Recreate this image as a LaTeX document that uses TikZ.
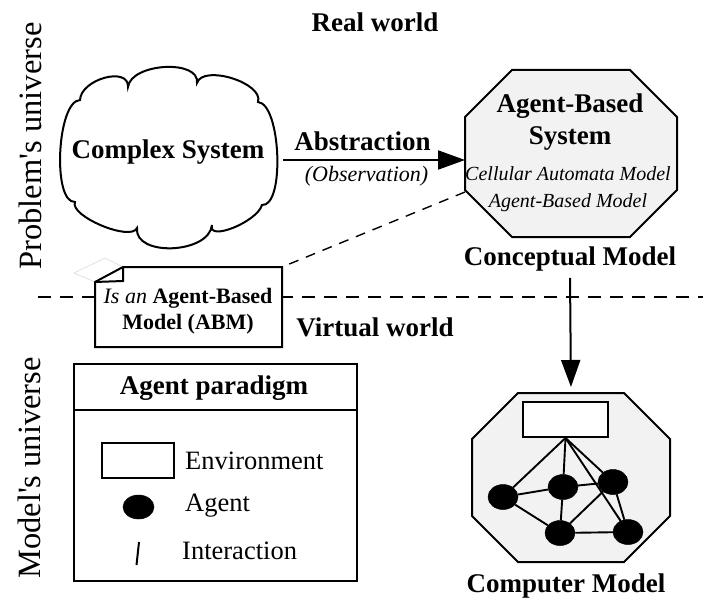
\documentclass[tikz,border=0pt]{standalone}
\usepackage{fontspec}
\setmainfont{Liberation Serif}
\newfontfamily\plainserif{Liberation Serif}
\usetikzlibrary{arrows.meta,calc,shapes.geometric}

% octagon drawn inside the box of a placeholder node: #1 style, #2 node name, #3 corner cut
\newcommand\drawoctagon[3]{%
  \draw[#1] ($(#2.north west)+(#3,0)$) -- ($(#2.north east)+(-#3,0)$)
    -- ($(#2.north east)+(0,#3)$) -- ($(#2.south east)+(0,-#3)$)
    -- ($(#2.south east)+(-#3,0)$) -- ($(#2.south west)+(#3,0)$)
    -- ($(#2.south west)+(0,-#3)$) -- ($(#2.north west)+(0,#3)$) -- cycle;}

\begin{document}
\begin{tikzpicture}[x=1pt, y=-1pt,
  outline/.style={line width=2pt, line join=miter},
  holder/.style={draw=none, inner sep=0pt, outer sep=0pt},
  octa/.style={outline, fill=black!5},
  flow/.style={line width=2pt, -{Triangle[length=27pt,width=19pt]}},
  divider/.style={line width=1.4pt, dash pattern=on 13pt off 9pt},
  head/.style={font=\fontsize{27}{32}\selectfont\bfseries, align=center},
  small/.style={font=\fontsize{22}{26}\selectfont, align=center},
  side/.style={font=\plainserif\fontsize{32.5}{36}\selectfont, rotate=90},
  legtext/.style={font=\fontsize{26.5}{30}\selectfont, anchor=west, inner sep=0pt},
  agent/.style={ellipse, fill=black, draw=black, line width=0.5pt,
                minimum width=30pt, minimum height=25pt, inner sep=0pt},
  link/.style={line width=1.9pt},
  envbox/.style={draw, line width=1.9pt, fill=white, inner sep=0pt}
]
\useasboundingbox (0,0) rectangle (703,599);

% region titles
\node[head] (real) at (375,22.5) {Real world};
\node[head] (virtual) at (375,327) {Virtual world};
\node[side] (prob) at (30,146) {Problem's universe};
\node[side] (modl) at (29,468) {Model's universe};

% border between the two worlds
\coordinate (divL) at (38,297);
\coordinate (divR) at (703,297);
\draw[divider] (divL) -- (divR);

% complex system cloud
\draw[outline, fill=white] (80,100)
  .. controls (81,79) and (129,66) .. (128,87)
  .. controls (131,63) and (200,59) .. (197,83)
  .. controls (203,64) and (264,83) .. (258,102)
  .. controls (281,104) and (285,207) .. (262,205)
  .. controls (257,222) and (207,242) .. (212,225)
  .. controls (209,254) and (134,257) .. (137,228)
  .. controls (131,242) and (69,216) .. (75,202)
  .. controls (52,203) and (57,101) .. (80,100) -- cycle;
\node[head] (cs) at (168,152) {Complex System};
\coordinate (cs-e) at (283,160);

% agent-based system (conceptual model)
\node[holder, minimum width=212pt, minimum height=167pt] (abs) at (571,153.5) {};
\drawoctagon{octa}{abs}{47}
\node[head] (abs-title) at (570,122) {Agent-Based\\System};
\node[align=center, font=\fontsize{20}{27}\selectfont\itshape] (abs-items) at (568,189)
  {Cellular Automata Model\\Agent-Based Model};
\node[head] (concept) at (570,259) {Conceptual Model};
\coordinate (abs-ll) at ($(abs.south west)+(0,-45)$);

% abstraction arrow
\draw[flow] (cs-e) -- (abs.west |- cs-e);
\node[head] (abstr) at (362.5,141) {Abstraction};
\node[small, font=\fontsize{22}{26}\selectfont\itshape] (obs) at (366.5,176) {(Observation)};

% note attached to the conceptual model
\node[holder, fill=white, minimum width=187pt, minimum height=80pt] (abm) at (188.5,307) {};
\draw[gray!30, line width=0.6pt] ($(abm.north west)+(0,15)$) -- (74,273) -- (105,258)
  -- ($(abm.north west)+(28,0)$);
\draw[outline, fill=white] ($(abm.north west)+(0,15)$) -- ($(abm.north west)+(28,0)$)
  -- (abm.north east) -- (abm.south east) -- (abm.south west) -- cycle;
\draw[outline] ($(abm.north west)+(0,15)$) -- ($(abm.north west)+(28,14)$)
  -- ($(abm.north west)+(28,0)$);
\node[small] (abm-text) at (188,311.5) {\textit{Is an} \textbf{Agent-Based}\\\textbf{Model (ABM)}};
\draw[divider, dash pattern=on 10pt off 8pt] (abs-ll) -- (abm.north east);

% computer model
\node[holder, minimum width=198pt, minimum height=169pt] (comp) at (571,477.5) {};
\drawoctagon{octa}{comp}{46}
\node[envbox, minimum width=85pt, minimum height=35pt] (cenv) at (565.5,419.5) {};
\node[agent] (a1) at (503,497) {};
\node[agent] (a2) at (563,487) {};
\node[agent] (a3) at (613,482) {};
\node[agent] (a4) at (560,533) {};
\node[agent] (a5) at (628,532) {};
\draw[link] (cenv.south) -- (a1);
\draw[link] (cenv.south) -- (a2);
\draw[link] (cenv.south) -- (a3);
\draw[link] (cenv.south) -- (a5);
\draw[link] (a1) -- (a2);
\draw[link] (a2) -- (a3);
\draw[link] (a1) -- (a4);
\draw[link] (a2) -- (a4);
\draw[link] (a4) -- (a3);
\draw[link] (a4) -- (a5);
\draw[link] (a3) -- (a5);
\node[head] (compl) at (566,585.5) {Computer Model};

% implementation arrow
\draw[flow, shorten <=3pt, shorten >=6pt] (concept.south) -- (comp.north);

% legend of the agent paradigm
\node[holder, draw, line width=2pt, minimum width=283pt, minimum height=217pt] (legend) at (215.5,472.5) {};
\draw[outline] ($(legend.north west)+(0,46)$) -- ($(legend.north east)+(0,46)$);
\node[head] (legtitle) at (214,388.5) {Agent paradigm};
\node[envbox, minimum width=72pt, minimum height=35pt] (lenv) at (138,460.5) {};
\node[legtext] (lenv-t) at (185,461) {Environment};
\node[agent, minimum width=31pt, minimum height=24pt] (lagent) at (138.5,507) {};
\node[legtext] (lagent-t) at (185,505.5) {Agent};
\coordinate (lint-a) at (139,542);
\coordinate (lint-b) at (136.5,565);
\draw[link, line width=2pt] (lint-a) -- (lint-b);
\node[legtext] (lint-t) at (182,551) {Interaction};
\end{tikzpicture}
\end{document}
